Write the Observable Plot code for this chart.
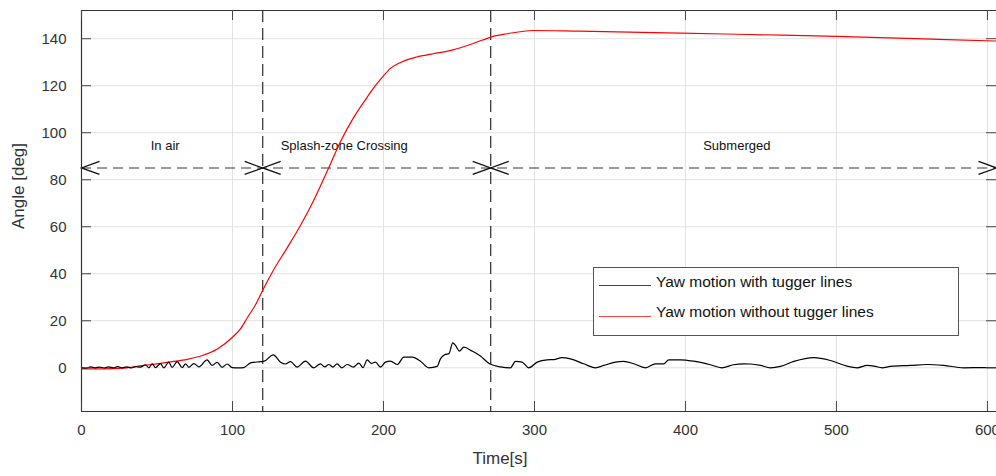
<!DOCTYPE html>
<html><head><meta charset="utf-8">
<script src="https://cdn.jsdelivr.net/npm/d3@7"></script>
<script src="https://cdn.jsdelivr.net/npm/@observablehq/plot@0.6"></script>
<style>
html,body{margin:0;padding:0;background:#fff;}
#wrap{position:relative;width:996px;height:476px;font-family:"Liberation Sans",Arial,sans-serif;}
#legend{position:absolute;left:593px;top:267px;width:366px;height:69px;box-sizing:border-box;border:1px solid #555;background:#fff;z-index:2;}
.sw{position:absolute;left:5px;width:52px;height:0;border-top:1.2px solid;}
.lt{position:absolute;left:62px;font-size:15.5px;color:#111;line-height:20px;white-space:nowrap;}
</style></head>
<body><div id="wrap"><div id="legend"></div></div>
<script>
// ---- data ----
const seriesNames = ["Yaw motion with tugger lines", "Yaw motion without tugger lines"];
const seriesColors = ["#000000", "#ff0000"];

const timeWithout = [0,10,20,30,40,50,60,70,80,90,100,105,110,115,120,127,136,145,154,163,171.5,180,188,194,200,205,211,222,233,244,255,266,271,282,299,330,397,441,500,529,573,606];
const yawWithout  = [-0.5,-0.5,-0.4,0,0.9,1.7,2.6,3.6,5.2,8,13,16.3,21.5,26.5,33,41.4,50.8,60.5,71.5,84,96.2,106.2,114,119.5,124.2,127.6,129.8,132.2,133.6,134.9,137,139.5,140.7,142.1,143.5,143.2,142.4,141.8,141,140.5,139.6,139];

const timeWith = [0,3,6,9,12,15,18,21,24,27,30,33,36,39,42.4,44.6,46.8,49,52.3,54.5,57.8,60,63.4,66.7,68.9,71.1,74.4,77.7,83.2,86.5,89.8,93.2,96.5,99.8,104,107.5,112,118.5,121,127,131.8,135.1,138.4,142.8,148.3,153.8,158.3,161,163.8,166.5,169.3,172.5,176,180,183.7,186.5,189.2,192,194.7,198,201.3,204.6,209.1,213.5,219,224.5,230,235.6,237.7,241,243.3,245.9,247.7,250.3,253.2,258.7,264.2,270.2,277.5,284.1,287.4,291.8,296.2,301.8,308.4,312.8,318.3,323.8,332.6,340.4,345.9,353.6,359.1,365.8,373.5,380.1,385.6,388.9,396.6,405.4,416.4,424.1,431.8,438.4,443,449.7,456.3,462.9,471.8,485,496,507,513.7,520.3,525.8,530.2,535.7,549,560,571,584.3,597.5,606];
const yawWith  = [0.2,-0.2,0.4,0,0.3,-0.1,0.4,0,0.5,0,0.4,-0.1,0.5,0.3,1.3,0,1.7,0.1,1.8,0,2.4,0.2,2.6,0.1,1.7,0.2,1.8,0.4,3.4,1.0,2.3,0.2,1.6,0.1,0,0.1,2.1,2.6,2.8,5.5,2.4,1.6,2.6,0.3,2.8,0,1.7,0.4,1.4,0.3,1.7,0,1.4,0.3,2.0,0.1,3.4,1.9,2.4,0.3,2.4,2.8,1.4,4.5,4.5,2.8,0,0.6,3.8,5.7,6.0,10.6,9.5,7.1,8.8,7.1,5.0,1.7,0.4,0,2.7,2.4,0,2.4,3.4,3.5,4.3,3.8,1.7,0,1.0,2.4,2.7,1.7,0,1.7,1.7,3.4,3.4,2.8,1.3,0,1.3,1.7,1.6,1.0,0,0.6,2.7,4.3,3.1,0.7,0,1.0,0.6,0,0.6,1.0,1.4,1.0,0,0.1,0];

const phaseEdges = [0, 120, 271, 606];
const phaseNames = ["In air", "Splash-zone Crossing", "Submerged"];
const phaseLabelX = [55.4, 174, 434];
const arrowLevel = 85;
const labelLevel = 94.6;

const xTicks = [0,100,200,300,400,500,600];
const yTicks = [0,20,40,60,80,100,120,140];
const xDomain = [0, 606];
const yDomain = [-18.6, 152];

// ---- build ----
const red = timeWithout.map((t,i)=>({t, v: yawWithout[i]}));
const blk = timeWith.map((t,i)=>({t, v: yawWith[i]}));

const W = 996, H = 476, ML = 81, MR = 0, MT = 10, MB = 65;
const innerW = W - ML - MR, innerH = H - MT - MB;
const TL = 10;

const chevLeft = {draw(ctx){ ctx.moveTo(18,-6.5); ctx.lineTo(0,0); ctx.lineTo(18,6.5); }};
const chevRight = {draw(ctx){ ctx.moveTo(-18,-6.5); ctx.lineTo(0,0); ctx.lineTo(-18,6.5); }};

const plot = Plot.plot({
  width: W, height: H,
  marginLeft: ML, marginRight: MR, marginTop: MT, marginBottom: MB,
  style: {fontFamily: '"Liberation Sans", Arial, sans-serif', fontSize: "15px", color: "#333", background: "#fff", overflow: "visible"},
  x: {domain: xDomain},
  y: {domain: yDomain},
  marks: [
    Plot.ruleX(xTicks.slice(1), {stroke: "#e2e2e2", strokeWidth: 1}),
    Plot.ruleY(yTicks, {stroke: "#e2e2e2", strokeWidth: 1}),
    Plot.ruleX(phaseEdges.slice(1, 3), {stroke: "#3a3a3a", strokeWidth: 1.3, strokeDasharray: "12,6"}),
    Plot.ruleY([arrowLevel], {stroke: "#3a3a3a", strokeWidth: 1.2, strokeDasharray: "10,6"}),
    Plot.dot(phaseEdges.slice(0, 3), {x: d=>d, y: arrowLevel, symbol: chevLeft, fill: "none", stroke: "#111", strokeWidth: 1.3}),
    Plot.dot(phaseEdges.slice(1), {x: d=>d, y: arrowLevel, symbol: chevRight, fill: "none", stroke: "#111", strokeWidth: 1.3}),
    Plot.text(phaseNames, {x: (d,i)=>phaseLabelX[i], y: labelLevel, text: d=>d, fontSize: 13, fill: "#111"}),
    Plot.line(red, {x: "t", y: "v", stroke: seriesColors[1], strokeWidth: 1.2, curve: "monotone-x"}),
    Plot.line(blk, {x: "t", y: "v", stroke: seriesColors[0], strokeWidth: 1.2, curve: "monotone-x"}),
    // frame (left, top, bottom)
    Plot.ruleX([xDomain[0]], {stroke: "#333", strokeWidth: 1.2}),
    Plot.ruleY(yDomain, {stroke: "#333", strokeWidth: 1.2}),
    // inward ticks
    Plot.tickX(xTicks, {x: d=>d, insetTop: innerH - TL, stroke: "#444"}),
    Plot.tickX(xTicks, {x: d=>d, insetBottom: innerH - TL, stroke: "#444"}),
    Plot.tickY(yTicks, {y: d=>d, insetRight: innerW - TL, stroke: "#444"}),
    Plot.tickY(yTicks, {y: d=>d, insetLeft: innerW - TL, stroke: "#444"}),
    Plot.axisX(xTicks, {tickSize: 0, tickPadding: 13, fontSize: 15, label: null}),
    Plot.axisY(yTicks, {tickSize: 0, tickPadding: 15, fontSize: 15, label: null}),
    Plot.text(["Time[s]"], {frameAnchor: "bottom", dx: -39, dy: 52, fontSize: 17, fill: "#333"}),
    Plot.text(["Angle [deg]"], {frameAnchor: "left", rotate: -90, dx: -63, dy: 18, fontSize: 17, fill: "#333"})
  ]
});
const wrap = document.getElementById("wrap");
wrap.insertBefore(plot, wrap.firstChild);

const lg = document.getElementById("legend");
const rows = [{sw: 17, tx: 3.5}, {sw: 48, tx: 33.5}];
seriesNames.forEach((name, i) => {
  const s = document.createElement("div");
  s.className = "sw"; s.style.top = rows[i].sw + "px";
  s.style.borderTopColor = i === 0 ? "#444" : "#ff4040";
  lg.appendChild(s);
  const t = document.createElement("div");
  t.className = "lt"; t.style.top = rows[i].tx + "px"; t.textContent = name;
  lg.appendChild(t);
});
</script></body></html>
